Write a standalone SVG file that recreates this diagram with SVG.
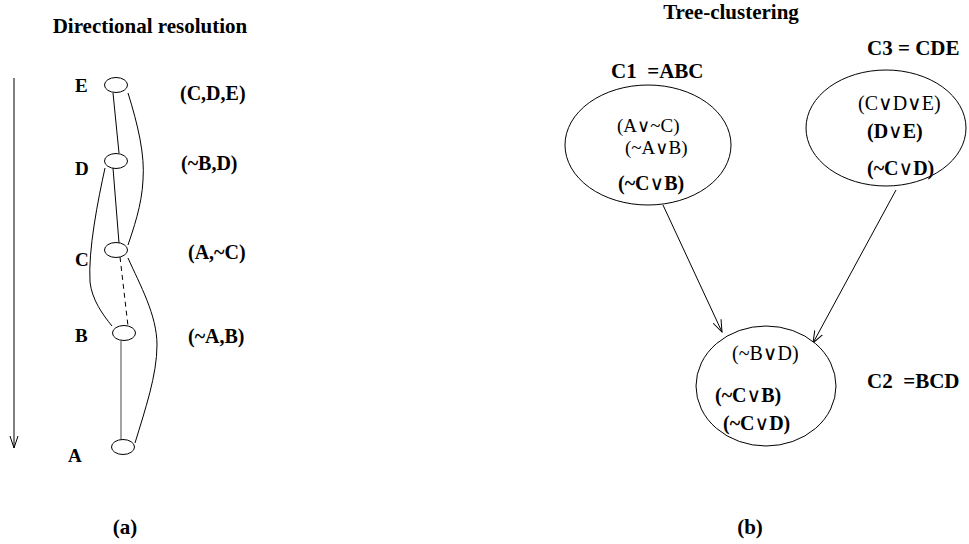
<svg xmlns="http://www.w3.org/2000/svg" width="969" height="544" viewBox="0 0 969 544">
<defs>
<marker id="arr" markerUnits="userSpaceOnUse" markerWidth="14" markerHeight="10" refX="12" refY="5" orient="auto">
<polyline points="0,0.5 12,5 0,9.5" fill="none" stroke="#000" stroke-width="1"/>
</marker>
<style>
text{font-family:"Liberation Serif","Times New Roman",serif;fill:#000}
.t{font-size:21px;font-weight:bold}
.n{font-size:19px;font-weight:bold}
.c{font-size:20px;font-weight:bold}
.r{font-size:20px}
.s{font-size:19px}
.v{font-family:"DejaVu Sans",sans-serif;font-weight:normal;font-size:20px}
.nd{fill:#fff;stroke:#000;stroke-width:1}
.e{fill:none;stroke:#000;stroke-width:1}
</style>
</defs>
<rect width="969" height="544" fill="#fff"/>
<text class="t" x="150" y="33" text-anchor="middle">Directional resolution</text>
<text class="t" x="731" y="19" text-anchor="middle">Tree-clustering</text>
<text class="t" x="125" y="534" text-anchor="middle">(a)</text>
<text class="t" x="750" y="534" text-anchor="middle">(b)</text>
<g id="connectors">
<line class="e" x1="14" y1="78" x2="14" y2="448"/>
<polyline class="e" points="10,436 14,448 18,436"/>
<line class="e" x1="113" y1="93" x2="119" y2="153"/>
<path class="e" d="M128,93 C138,125 145,155 143,180 C142,205 133,230 128,245"/>
<line class="e" x1="113" y1="168" x2="119" y2="243"/>
<path class="e" d="M105,168 C98,200 88,250 90,282 C92,300 103,315 112,326"/>
<line class="e" x1="120" y1="257" x2="128" y2="326" stroke-dasharray="5,4"/>
<path class="e" d="M128,258 C140,285 157,315 157,345 C157,375 145,410 135,443"/>
<line x1="121" y1="341" x2="121" y2="440" stroke="#666" stroke-width="1.2"/>
<line class="e" x1="663" y1="205" x2="722" y2="332" marker-end="url(#arr)"/>
<line class="e" x1="896" y1="190" x2="813" y2="343" marker-end="url(#arr)"/>
</g>
<g id="nodeE">
<ellipse class="nd" cx="116" cy="85" rx="11.5" ry="7.5"/>
<text class="n" x="75" y="92">E</text>
<text class="c" x="180" y="100">(C,D,E)</text>
</g>
<g id="nodeD">
<ellipse class="nd" cx="116" cy="161" rx="11.5" ry="7.5"/>
<text class="n" x="75" y="175">D</text>
<text class="c" x="181" y="170">(~B,D)</text>
</g>
<g id="nodeC">
<ellipse class="nd" cx="116" cy="250" rx="11.5" ry="7.5"/>
<text class="n" x="75" y="266">C</text>
<text class="c" x="188" y="259">(A,~C)</text>
</g>
<g id="nodeB">
<ellipse class="nd" cx="124" cy="333" rx="11.5" ry="7.5"/>
<text class="n" x="75" y="342">B</text>
<text class="c" x="188" y="343">(~A,B)</text>
</g>
<g id="nodeA">
<ellipse class="nd" cx="123" cy="447" rx="11.5" ry="7.5"/>
<text class="n" x="68" y="462">A</text>
</g>
<g id="C1">
<text class="t" x="611" y="78" xml:space="preserve">C1  =ABC</text>
<ellipse class="nd" cx="648" cy="145" rx="83" ry="60"/>
<text class="s" x="617" y="132">(A<tspan class="v" style="font-size:18px">∨</tspan>~C)</text>
<text class="s" x="625" y="154">(~A<tspan class="v" style="font-size:18px">∨</tspan>B)</text>
<text class="c" x="618" y="190">(~C<tspan class="v">∨</tspan>B)</text>
</g>
<g id="C3">
<text class="t" x="867" y="55">C3 = CDE</text>
<ellipse class="nd" cx="886" cy="128" rx="80" ry="58"/>
<text class="r" x="858" y="110">(C<tspan class="v">∨</tspan>D<tspan class="v">∨</tspan>E)</text>
<text class="c" x="867" y="138">(D<tspan class="v">∨</tspan>E)</text>
<text class="c" x="867" y="175">(~C<tspan class="v">∨</tspan>D)</text>
</g>
<g id="C2">
<ellipse class="nd" cx="766" cy="386" rx="70" ry="60"/>
<text class="r" x="732" y="360">(~B<tspan class="v">∨</tspan>D)</text>
<text class="c" x="715" y="402">(~C<tspan class="v">∨</tspan>B)</text>
<text class="c" x="723" y="430">(~C<tspan class="v">∨</tspan>D)</text>
<text class="t" x="867" y="388" xml:space="preserve">C2  =BCD</text>
</g>
</svg>
